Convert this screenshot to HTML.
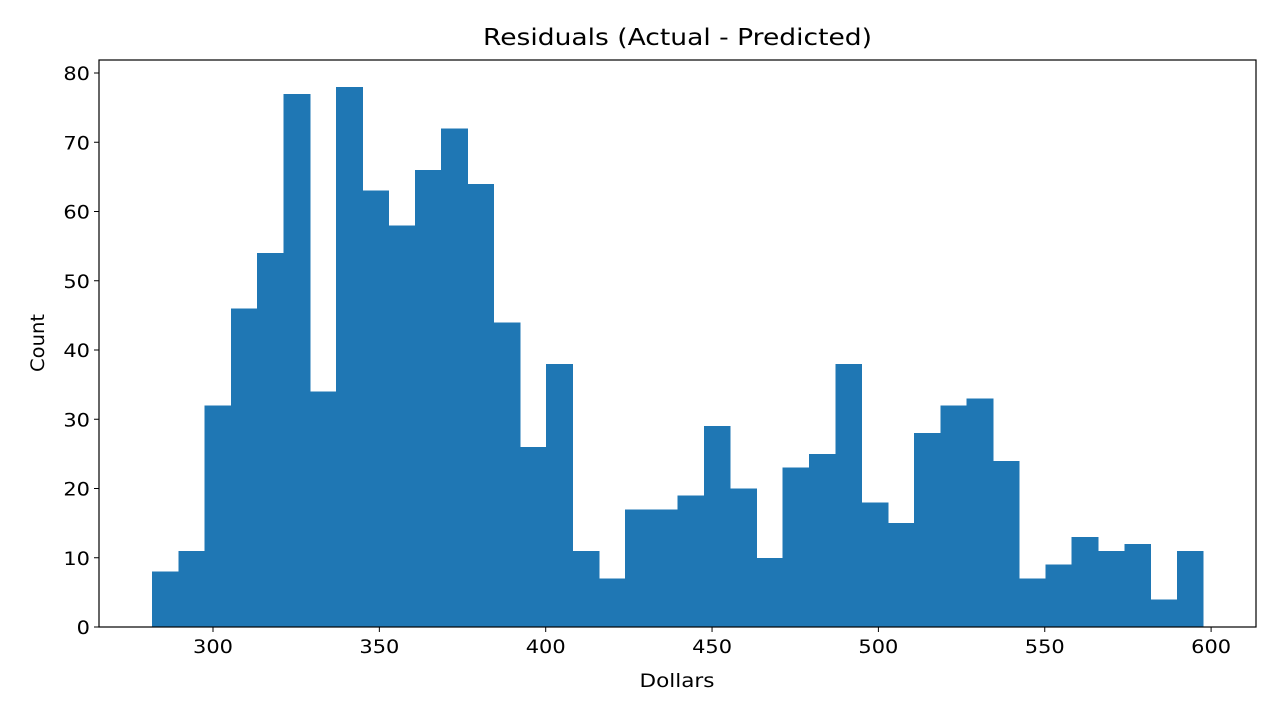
<!DOCTYPE html>
<html><head><meta charset="utf-8"><style>
body{margin:0;background:#fff;font-family:"DejaVu Sans","Liberation Sans",sans-serif}
</style></head><body>
<svg id="chart" width="1280" height="720" xmlns="http://www.w3.org/2000/svg" font-family="DejaVu Sans, Liberation Sans, sans-serif"></svg>
<script>
const counts=[8,11,32,46,54,77,34,78,63,58,66,72,64,44,26,38,11,7,17,17,19,29,20,10,23,25,38,18,15,28,32,33,24,7,9,13,11,12,4,11];
const binStart=281.7, binEnd=597.6;
const xTicks=[300,350,400,450,500,550,600];
const yTicks=[0,10,20,30,40,50,60,70,80];
const L=99,R=1256,T=60,B=627;
const xs=v=>213+(v-300)*3.327;
const ys=v=>627-v*6.925;
const svg=document.getElementById('chart');
const NS='http://www.w3.org/2000/svg';
function mk(tag,attrs,text){const e=document.createElementNS(NS,tag);for(const k in attrs)e.setAttribute(k,attrs[k]);if(text!==undefined)e.textContent=text;svg.appendChild(e);return e;}
const bw=(binEnd-binStart)/counts.length;
counts.forEach((c,i)=>{
  const x0=xs(binStart+i*bw),x1=xs(binStart+(i+1)*bw);
  const r=mk('rect',{x:x0,y:ys(c),width:x1-x0+0.5,height:ys(0)-ys(c),fill:'#1f77b4','shape-rendering':'crispEdges'});
  
  
});
const frame=mk('rect',{x:L,y:T,width:R-L,height:B-T,fill:'none',stroke:'#000','stroke-width':1.2});


const digitW=13.3;
xTicks.forEach(v=>{
  const x=xs(v);
  mk('line',{x1:x,x2:x,y1:B,y2:B+5,stroke:'#000','stroke-width':1});
  const s=String(v);
  const t=mk('text',{x:x,y:B+26,'text-anchor':'middle','font-size':19,textLength:s.length*digitW,lengthAdjust:'spacingAndGlyphs'},s);
  
  
});
yTicks.forEach(v=>{
  const y=ys(v);
  mk('line',{x1:L-5,x2:L,y1:y,y2:y,stroke:'#000','stroke-width':1});
  const s=String(v);
  const t=mk('text',{x:L-9,y:y+7,'text-anchor':'end','font-size':19,textLength:s.length*digitW,lengthAdjust:'spacingAndGlyphs'},s);
  
  
});
const title=mk('text',{x:677.5,y:45,'text-anchor':'middle','font-size':23,textLength:389,lengthAdjust:'spacingAndGlyphs'},'Residuals (Actual - Predicted)');


const xl=mk('text',{x:677,y:687,'text-anchor':'middle','font-size':19,textLength:75,lengthAdjust:'spacingAndGlyphs'},'Dollars');


const yl=mk('text',{x:44,y:343,'text-anchor':'middle','font-size':19,textLength:58,lengthAdjust:'spacingAndGlyphs',transform:'rotate(-90 44 343)'},'Count');


</script>
</body></html>
